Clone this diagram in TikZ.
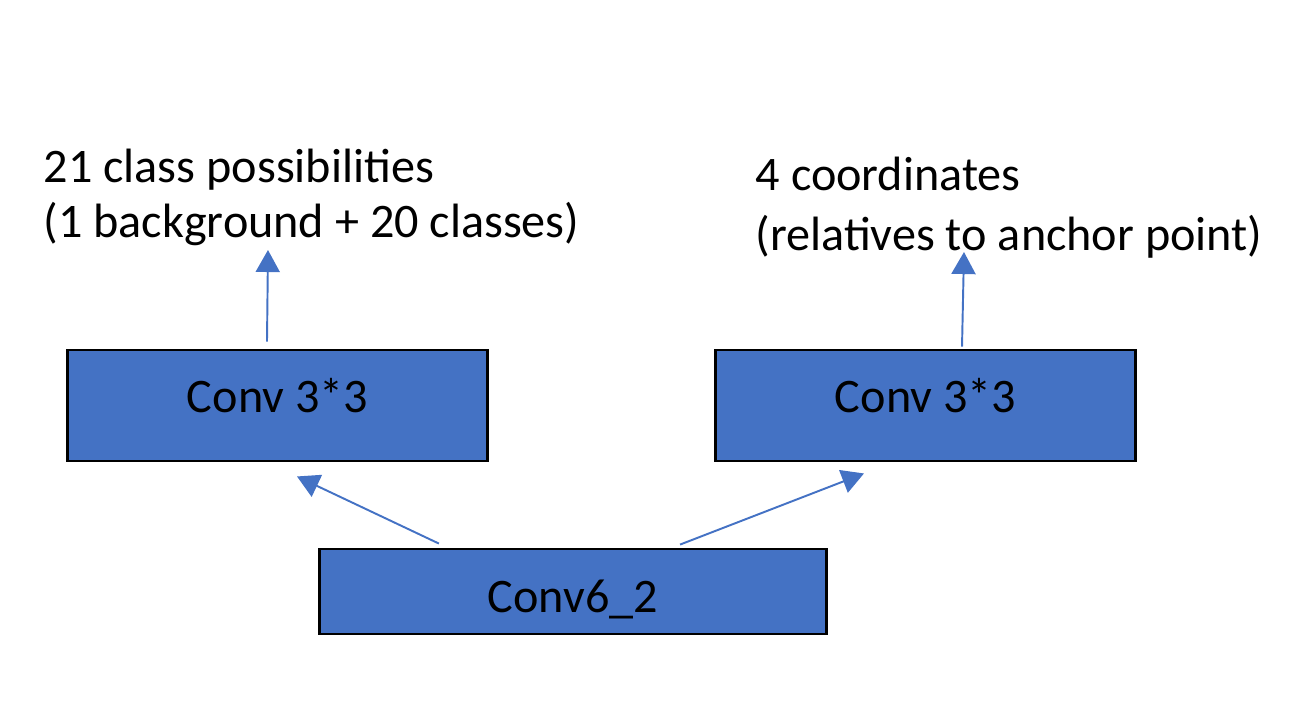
\documentclass[tikz,border=0pt]{standalone}
\usepackage{fontspec}
\setmainfont{Carlito}
\usepackage{tikz}
\usetikzlibrary{arrows.meta,positioning}
\definecolor{boxblue}{HTML}{4472C4}

\begin{document}
\begin{tikzpicture}[x=0.01cm,y=-0.01cm]
\tikzstyle{convbox}=[rectangle,draw=black,line width=0.8pt,fill=boxblue,font=\fontsize{13.7}{16}\selectfont]
\tikzstyle{outtext}=[anchor=base west,align=left,inner sep=0pt]
\tikzstyle{arr}=[draw=boxblue,line width=0.55pt,-{Triangle[length=2.2mm,width=2.4mm]}]
\useasboundingbox (0,0) rectangle (1308,708);
\node[convbox,minimum width=4.19cm,minimum height=1.11cm,text height=0.31cm,text depth=0.18cm] (convL) at (277.5,405.5) {Conv 3*3};
\node[convbox,minimum width=4.19cm,minimum height=1.11cm,text height=0.31cm,text depth=0.18cm] (convR) at (925.5,405.5) {Conv 3*3};
\node[convbox,minimum width=5.06cm,minimum height=0.85cm,text height=0.45cm,text depth=0.04cm] (conv6) at (573,591.5) {Conv6\_2};
\node[outtext,font=\fontsize{13.7}{15.6}\selectfont] (cls) at (43,237) {21 class possibilities\\(1 background + 20 classes)};
\node[outtext,font=\fontsize{13.7}{16.8}\selectfont] (loc) at (755,250) {4 coordinates\\(relatives to anchor point)};
\coordinate (tipL) at (268,250);
\coordinate (tipR) at (964,252);
\draw[arr] ([xshift=-0.105cm,yshift=0.07cm]convL.north) -- (tipL);
\draw[arr] ([xshift=0.365cm,yshift=0.02cm]convR.north) -- (tipR);
\draw[arr] ([xshift=-1.34cm,yshift=0.04cm]conv6.north) -- ([xshift=0.195cm,yshift=-0.14cm]convL.south);
\draw[arr] ([xshift=1.07cm,yshift=0.03cm]conv6.north) -- ([xshift=-0.615cm,yshift=-0.11cm]convR.south);
\end{tikzpicture}
\end{document}
